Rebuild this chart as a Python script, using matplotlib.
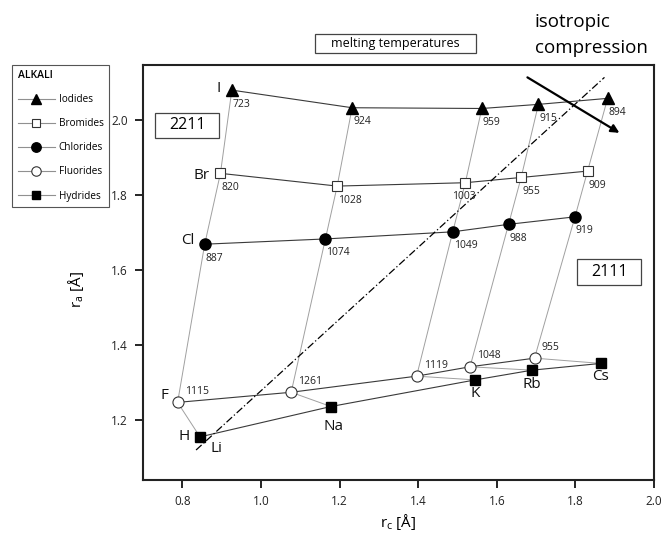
import matplotlib
matplotlib.use("Agg")
import matplotlib.pyplot as plt
from matplotlib.lines import Line2D
from matplotlib.patches import Rectangle

plt.rcParams['font.family'] = ['Open Sans', 'DejaVu Sans']

# data ------------------------------------------------------------
cations = ['Li', 'Na', 'K', 'Rb', 'Cs']
anions = ['I', 'Br', 'Cl', 'F', 'H']

iod_x = [0.926, 1.232, 1.562, 1.706, 1.882]
iod_y = [2.080, 2.033, 2.031, 2.042, 2.058]
iod_t = [723, 924, 959, 915, 894]

bro_x = [0.897, 1.194, 1.520, 1.662, 1.831]
bro_y = [1.858, 1.824, 1.833, 1.847, 1.864]
bro_t = [820, 1028, 1003, 955, 909]

chl_x = [0.857, 1.164, 1.488, 1.630, 1.799]
chl_y = [1.669, 1.683, 1.702, 1.722, 1.742]
chl_t = [887, 1074, 1049, 988, 919]

flu_x = [0.788, 1.077, 1.396, 1.532, 1.696]
flu_y = [1.247, 1.274, 1.317, 1.342, 1.365]
flu_t = [1115, 1261, 1119, 1048, 955]

hyd_x = [0.845, 1.178, 1.545, 1.690, 1.865]
hyd_y = [1.155, 1.236, 1.307, 1.333, 1.351]

# dash-dot boundary and compression arrow
bound_x = [0.835, 1.874]
bound_y = [1.120, 2.114]
arrow_start = (1.678, 2.114)
arrow_end = (1.912, 1.966)

W, H = 662, 534
fig = plt.figure(figsize=(W / 100, H / 100), dpi=100)
ax = fig.add_axes([143 / W, 1 - 480 / H, 511 / W, 415 / H])

series = [
    ('Iodides', iod_x, iod_y, dict(marker='^', ms=8, mfc='black', mec='black')),
    ('Bromides', bro_x, bro_y, dict(marker='s', ms=6.5, mfc='white', mec='#333333', mew=0.8)),
    ('Chlorides', chl_x, chl_y, dict(marker='o', ms=8, mfc='black', mec='black')),
    ('Fluorides', flu_x, flu_y, dict(marker='o', ms=8, mfc='white', mec='#333333', mew=0.8)),
    ('Hydrides', hyd_x, hyd_y, dict(marker='s', ms=6.5, mfc='black', mec='black')),
]

# light lines joining each cation through the anion series
for i in range(len(cations)):
    cx = [s[1][i] for s in series]
    cy = [s[2][i] for s in series]
    ax.plot(cx, cy, color='#a0a0a0', lw=0.7, zorder=1)

# series lines and markers
handles = []
for name, xs, ys, st in series:
    ax.plot(xs, ys, color='#3a3a3a', lw=0.8, zorder=2)
    ax.plot(xs, ys, ls='none', zorder=3, **st)
    handles.append(Line2D([], [], color='#909090', lw=0.8, label=name,
                          **{**st, 'ms': st['ms'] * 0.85}))

ax.plot(bound_x, bound_y, color='black', lw=0.9, ls=(0, (6, 2, 1, 2)), zorder=2)
ax.annotate('', xy=arrow_end, xytext=arrow_start,
            arrowprops=dict(arrowstyle='-|>', color='black', lw=1.6,
                            mutation_scale=12, shrinkA=0, shrinkB=0))

# melting temperature labels
num_kw = dict(textcoords='offset pixels', fontsize=7.5, color='#222222',
              ha='left', va='center')
for xs, ys, ts in [(iod_x, iod_y, iod_t), (bro_x, bro_y, bro_t), (chl_x, chl_y, chl_t)]:
    for x, y, t in zip(xs, ys, ts):
        dx = -13 if t == 1003 and xs is bro_x else 1
        ax.annotate(str(t), (x, y), xytext=(dx, -14), **num_kw)
for x, y, t in zip(flu_x, flu_y, flu_t):
    ax.annotate(str(t), (x, y), xytext=(7, 11), **num_kw)

# element labels
el_kw = dict(textcoords='offset pixels', fontsize=11, color='#111111',
             ha='center', va='center')
row_offsets = [(-13, 2), (-19, -2), (-17, 4), (-13, 7), (-16, 0)]
for s, lab, off in zip(series, anions, row_offsets):
    ax.annotate(lab, (s[1][0], s[2][0]), xytext=off, **el_kw)
col_offsets = [(16, -12), (3, -20), (0, -14), (0, -14), (0, -13)]
for x, y, lab, off in zip(hyd_x, hyd_y, cations, col_offsets):
    ax.annotate(lab, (x, y), xytext=off, **el_kw)

ax.set_xlim(0.7, 2.0)
ax.set_ylim(1.04, 2.147)
ax.set_xticks([0.8, 1.0, 1.2, 1.4, 1.6, 1.8, 2.0])
ax.set_yticks([1.2, 1.4, 1.6, 1.8, 2.0])
ax.tick_params(direction='out', length=6, width=1.2, labelsize=8.5,
               labelcolor='#222222', pad=5)
for sp in ax.spines.values():
    sp.set_linewidth(1.5)
    sp.set_color('#222222')

ax.set_xlabel(r'r$_\mathregular{c}$ [Å]', fontsize=11)
ax.set_ylabel(r'r$_\mathregular{a}$ [Å]', fontsize=11)
ax.xaxis.set_label_coords(0.499, -0.078)
ax.yaxis.set_label_coords(-0.112, 0.46)


def boxed(cx, cy, w, h, text, size):
    fig.patches.append(Rectangle(((cx - w / 2) / W, 1 - (cy + h / 2) / H), w / W, h / H,
                                 transform=fig.transFigure, fill=False,
                                 ec='#444444', lw=0.9))
    fig.text(cx / W, 1 - cy / H, text, ha='center', va='center', fontsize=size)


boxed(187, 125, 64, 25, '2211', 11.5)
boxed(609, 272, 64, 26, '2111', 11.5)
boxed(395, 43, 161, 19, 'melting temperatures', 9)

fig.text(535 / W, 1 - 22 / H, 'isotropic', ha='left', va='center', fontsize=13.5)
fig.text(535 / W, 1 - 48 / H, 'compression', ha='left', va='center', fontsize=13.5)

leg = fig.legend(handles=handles, loc='upper left', bbox_to_anchor=(12 / W, 1 - 65 / H),
                 borderaxespad=0, fontsize=7.2, title='ALKALI',
                 title_fontproperties={'size': 7.5, 'weight': 'semibold'},
                 alignment='left', fancybox=False, edgecolor='#555555',
                 handlelength=3.7, handletextpad=0.4, labelspacing=1.3,
                 borderpad=0.55, numpoints=1, framealpha=1)
leg.get_frame().set_linewidth(0.8)

fig.savefig('out.png', dpi=100)
